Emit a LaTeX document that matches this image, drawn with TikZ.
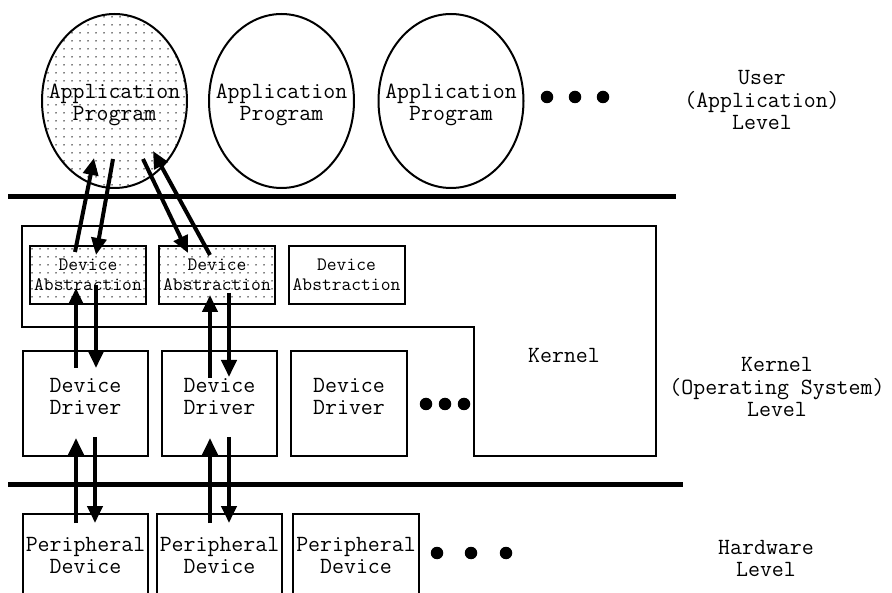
\documentclass[tikz,border=0pt]{standalone}
\usepackage{fontspec}
\usetikzlibrary{shapes.geometric,arrows.meta,patterns.meta,calc}
\newcommand\txtL{\ttfamily\fontsize{23.2}{22.5}\selectfont}
\newcommand\txtS{\ttfamily\fontsize{19}{20}\selectfont}
\begin{document}
\begin{tikzpicture}[x=1pt,y=-1pt,
  app/.style={ellipse,draw,line width=2pt,minimum width=145pt,minimum height=174pt,inner sep=0pt},
  dotted fill/.style={pattern={Dots[distance=8pt,radius=0.75pt]},pattern color=black},
  abox/.style={rectangle,draw,line width=2pt,minimum width=116pt,minimum height=58pt,inner sep=0pt,align=center,font=\txtS},
  dbox/.style={rectangle,draw,line width=2pt,minimum height=105pt,inner sep=0pt},
  pbox/.style={rectangle,draw,line width=2pt,inner sep=0pt},
  lbl/.style={align=center,font=\txtL,inner sep=0pt},
  bar/.style={line width=5pt},
  arr/.style={line width=4pt,-{Triangle[width=15pt,length=17pt]}},
  dot/.style={circle,fill=black,inner sep=0pt,minimum size=12.5pt}
]
\useasboundingbox (0,0) rectangle (892,593);
\clip (0,0) rectangle (892,593);

% application level
\node[app,dotted fill] (app1) at (114.5,101) {};
\node[app] (app2) at (281.5,101) {};
\node[app] (app3) at (451,101) {};
\node[lbl] (t1) at (114.5,105) {Application\\Program};
\node[lbl] (t2) at (281.5,105) {Application\\Program};
\node[lbl] (t3) at (451,105) {Application\\Program};
\node[dot] (ud1) at (547,97) {};
\node[dot] (ud2) at (575,97) {};
\node[dot] (ud3) at (603,97) {};
\node[lbl] (ulevel) at (762,100) {User\\(Application)\\Level};

% separators
\coordinate (s1a) at (8,197);
\coordinate (s1b) at (676,197);
\draw[bar] (s1a) -- (s1b);
\coordinate (s2a) at (8,485);
\coordinate (s2b) at (683,485);
\draw[bar] (s2a) -- (s2b);

% kernel outline
\coordinate (k1) at (22,226);
\coordinate (k2) at (656,226);
\coordinate (k3) at (656,456);
\coordinate (k4) at (474,456);
\coordinate (k5) at (474,327);
\coordinate (k6) at (22,327);
\draw[line width=2pt] (k1) -- (k2) -- (k3) -- (k4) -- (k5) -- (k6) -- cycle;
\node[lbl] (kern) at (564,355) {Kernel};
\node[lbl] (klevel) at (777,387) {Kernel\\(Operating System)\\Level};

% device abstractions
\node[abox,dotted fill] (da1) at (88,275) {Device\\Abstraction};
\node[abox,dotted fill] (da2) at (217,275) {Device\\Abstraction};
\node[abox] (da3) at (346.5,275) {Device\\Abstraction};

% device drivers
\node[dbox,minimum width=125pt] (dd1) at (85.5,403.5) {};
\node[dbox,minimum width=115pt] (dd2) at (219.5,403.5) {};
\node[dbox,minimum width=116pt] (dd3) at (349,403.5) {};
\node[lbl] (dt1) at ($(dd1.center)+(0,-7)$) {Device\\Driver};
\node[lbl] (dt2) at ($(dd2.center)+(0,-7)$) {Device\\Driver};
\node[lbl] (dt3) at ($(dd3.center)+(0,-7)$) {Device\\Driver};
\node[dot] (kd1) at (426,404) {};
\node[dot] (kd2) at (445,404) {};
\node[dot] (kd3) at (464,404) {};

% peripheral devices
\draw[pbox] (23,514) rectangle (148,640);
\draw[pbox] (157,514) rectangle (282,640);
\draw[pbox] (293,514) rectangle (419,640);
\node[lbl] (pd1) at (85.5,555.5) {Peripheral\\Device};
\node[lbl] (pd2) at (219.5,555.5) {Peripheral\\Device};
\node[lbl] (pd3) at (356,555.5) {Peripheral\\Device};
\node[dot] (pdd1) at (437,553) {};
\node[dot] (pdd2) at (471,553) {};
\node[dot] (pdd3) at (506,553) {};
\node[lbl] (hlevel) at (766,558.5) {Hardware\\Level};

% arrows app <-> abstraction
\coordinate (a1s) at (75,252);  \coordinate (a1e) at (94,158);
\coordinate (a2s) at (113,159); \coordinate (a2e) at (96,255);
\coordinate (a3s) at (143,159); \coordinate (a3e) at (188,253);
\coordinate (a4s) at (210,255); \coordinate (a4e) at (153,151);
\draw[arr] (a1s) -- (a1e);
\draw[arr] (a2s) -- (a2e);
\draw[arr] (a3s) -- (a3e);
\draw[arr] (a4s) -- (a4e);

% arrows abstraction <-> driver
\coordinate (b1s) at (76,368); \coordinate (b1e) at (76,288);
\coordinate (b2s) at (96,285); \coordinate (b2e) at (96,368);
\coordinate (b3s) at (210,378); \coordinate (b3e) at (210,295);
\coordinate (b4s) at (229,293); \coordinate (b4e) at (229,377);
\draw[arr] (b1s) -- (b1e);
\draw[arr] (b2s) -- (b2e);
\draw[arr] (b3s) -- (b3e);
\draw[arr] (b4s) -- (b4e);

% arrows driver <-> peripheral
\coordinate (c1s) at (76,523); \coordinate (c1e) at (76,438);
\coordinate (c2s) at (95,437); \coordinate (c2e) at (95,523);
\coordinate (c3s) at (210,523); \coordinate (c3e) at (210,438);
\coordinate (c4s) at (229,437); \coordinate (c4e) at (229,523);
\draw[arr] (c1s) -- (c1e);
\draw[arr] (c2s) -- (c2e);
\draw[arr] (c3s) -- (c3e);
\draw[arr] (c4s) -- (c4e);
\end{tikzpicture}
\end{document}
